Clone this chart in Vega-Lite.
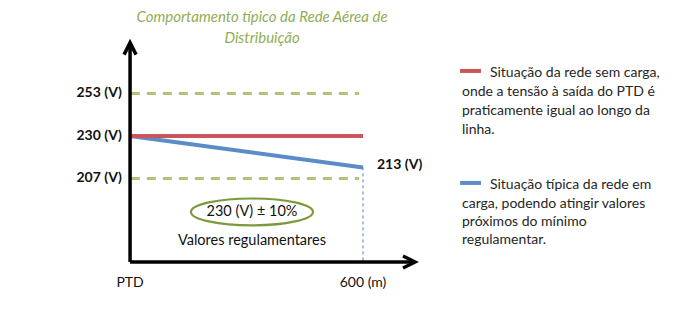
{
  "$schema": "https://vega.github.io/schema/vega-lite/v6.json",
  "width": 700,
  "height": 313,
  "autosize": {"type": "none"},
  "padding": 0,
  "background": "white",
  "config": {"view": {"stroke": null}, "font": "Lato"},
  "datasets": {
    "limits": [
      {"m": 2, "m_end": 590, "v": 253},
      {"m": 2, "m_end": 590, "v": 207}
    ],
    "drop": [{"m": 600, "v": 213, "v_end": 161.8}],
    "series": [
      {"serie": "sem carga", "m": 0, "v": 230},
      {"serie": "sem carga", "m": 600, "v": 230},
      {"serie": "em carga", "m": 0, "v": 230},
      {"serie": "em carga", "m": 600, "v": 213}
    ],
    "axes": [
      {"m": 0, "m_end": 0, "v": 161.8, "v_end": 279},
      {"m": 0, "m_end": 730, "v": 161.8, "v_end": 161.8}
    ],
    "arrowUp": [{"m": 0, "v": 277.3}],
    "arrowRight": [{"m": 718.5, "v": 161.8}],
    "ellipse": [{"m": 314, "v": 188.9}],
    "title": [
      {"m": 340, "v": 294.4, "text": "Comportamento típico da Rede Aérea de"},
      {"m": 340, "v": 283.0, "text": "Distribuição"}
    ],
    "ylabels": [
      {"m": -21, "v": 253, "text": "253 (V)"},
      {"m": -21, "v": 230, "text": "230 (V)"},
      {"m": -21, "v": 207, "text": "207 (V)"}
    ],
    "endlabel": [{"m": 636, "v": 214.5, "text": "213 (V)"}],
    "xlabels": [
      {"m": 0, "v": 150.5, "text": "PTD"},
      {"m": 600, "v": 150.5, "text": "600 (m)"}
    ],
    "notes": [
      {"m": 314, "v": 188.9, "text": "230 (V) ± 10%"},
      {"m": 314, "v": 173.2, "text": "Valores regulamentares"}
    ],
    "swatches": [
      {"serie": "sem carga", "m": 850, "m_end": 904, "v": 265.2},
      {"serie": "em carga", "m": 850, "m_end": 904, "v": 204.6}
    ],
    "legendtext": [
      {"m": 927, "v": 264.1, "text": "Situação da rede sem carga,"},
      {"m": 855, "v": 253.8, "text": "onde a tensão à saída do PTD é"},
      {"m": 855, "v": 243.5, "text": "praticamente igual ao longo da"},
      {"m": 855, "v": 233.2, "text": "linha."},
      {"m": 927, "v": 203.5, "text": "Situação típica da rede em"},
      {"m": 855, "v": 193.2, "text": "carga, podendo atingir valores"},
      {"m": 855, "v": 183.5, "text": "próximos do mínimo"},
      {"m": 855, "v": 173.7, "text": "regulamentar."}
    ]
  },
  "encoding": {
    "x": {"field": "m", "type": "quantitative", "scale": {"domain": [-335, 1468], "nice": false, "zero": false}, "axis": null},
    "y": {"field": "v", "type": "quantitative", "scale": {"domain": [134.2, 303.6], "nice": false, "zero": false}, "axis": null}
  },
  "layer": [
    {
      "data": {"name": "limits"},
      "mark": {"type": "rule", "color": "#afc27c", "strokeWidth": 3, "strokeDash": [9, 7]},
      "encoding": {"x2": {"field": "m_end"}}
    },
    {
      "data": {"name": "drop"},
      "mark": {"type": "rule", "color": "#4f81bd", "strokeWidth": 1, "strokeDash": [3, 3]},
      "encoding": {"y2": {"field": "v_end"}}
    },
    {
      "data": {"name": "series"},
      "transform": [{"filter": "datum.serie === 'em carga'"}],
      "mark": {"type": "line", "color": "#5b8cc8", "strokeWidth": 4}
    },
    {
      "data": {"name": "series"},
      "transform": [{"filter": "datum.serie === 'sem carga'"}],
      "mark": {"type": "line", "color": "#c9565a", "strokeWidth": 4}
    },
    {
      "data": {"name": "axes"},
      "mark": {"type": "rule", "color": "black", "strokeWidth": 3.5},
      "encoding": {"x2": {"field": "m_end"}, "y2": {"field": "v_end"}}
    },
    {
      "data": {"name": "arrowUp"},
      "mark": {"type": "point", "shape": "M-1,1 L0,-1 L1,1", "size": 144, "filled": false, "stroke": "black", "strokeWidth": 3.5, "opacity": 1}
    },
    {
      "data": {"name": "arrowRight"},
      "mark": {"type": "point", "shape": "M-1,1 L0,-1 L1,1", "size": 144, "angle": 90, "filled": false, "stroke": "black", "strokeWidth": 3.5, "opacity": 1}
    },
    {
      "data": {"name": "ellipse"},
      "mark": {"type": "point", "shape": "M-1,0 A1,0.22 0 1,1 1,0 A1,0.22 0 1,1 -1,0 Z", "size": 14884, "filled": false, "stroke": "#7a9a3c", "strokeWidth": 2.2, "opacity": 1}
    },
    {
      "data": {"name": "title"},
      "mark": {"type": "text", "fontSize": 15, "fontStyle": "italic", "color": "#8fad55", "align": "center", "baseline": "middle"},
      "encoding": {"text": {"field": "text"}}
    },
    {
      "data": {"name": "ylabels"},
      "mark": {"type": "text", "fontSize": 14, "fontWeight": "bold", "color": "#111111", "align": "right", "baseline": "middle"},
      "encoding": {"text": {"field": "text"}}
    },
    {
      "data": {"name": "endlabel"},
      "mark": {"type": "text", "fontSize": 14, "fontWeight": "bold", "color": "#111111", "align": "left", "baseline": "middle"},
      "encoding": {"text": {"field": "text"}}
    },
    {
      "data": {"name": "xlabels"},
      "mark": {"type": "text", "fontSize": 14, "color": "#111111", "align": "center", "baseline": "middle"},
      "encoding": {"text": {"field": "text"}}
    },
    {
      "data": {"name": "notes"},
      "mark": {"type": "text", "fontSize": 14.5, "color": "#111111", "align": "center", "baseline": "middle"},
      "encoding": {"text": {"field": "text"}}
    },
    {
      "data": {"name": "swatches"},
      "mark": {"type": "rule", "strokeWidth": 4},
      "encoding": {
        "x2": {"field": "m_end"},
        "color": {"field": "serie", "type": "nominal", "scale": {"domain": ["sem carga", "em carga"], "range": ["#c9565a", "#5b8cc8"]}, "legend": null}
      }
    },
    {
      "data": {"name": "legendtext"},
      "mark": {"type": "text", "fontSize": 14, "color": "#262626", "align": "left", "baseline": "middle"},
      "encoding": {"text": {"field": "text"}}
    }
  ]
}
